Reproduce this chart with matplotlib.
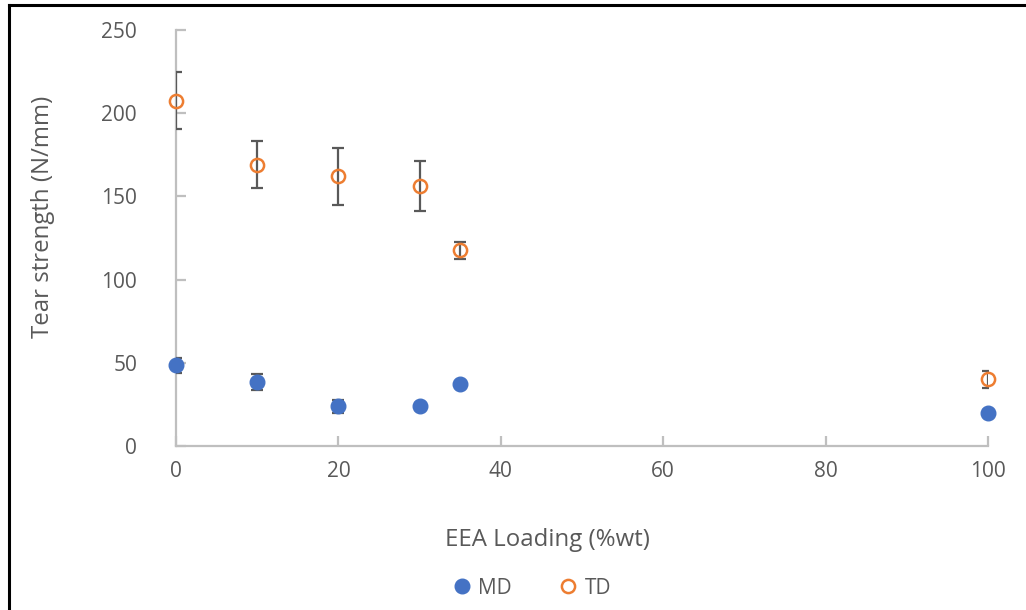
import matplotlib
matplotlib.use("Agg")
import matplotlib.pyplot as plt
from matplotlib.lines import Line2D
import numpy as np

# EEA loading (%wt)
loading = [0, 10, 20, 30, 35, 100]

# tear strength (N/mm)
md_mean = [48.6, 38.5, 23.8, 23.8, 37.0, 20.0]
md_err = [4.5, 5.0, 4.0, 2.0, 1.5, 1.5]
td_mean = [207.5, 169.0, 162.0, 156.0, 117.5, 40.0]
td_err = [17.0, 14.0, 17.0, 15.0, 5.0, 5.0]

x_ticks = [0, 20, 40, 60, 80, 100]
y_ticks = [0, 50, 100, 150, 200, 250]

TEXT = "#595959"
AXIS = "#BFBFBF"
BLUE = "#4472C4"
ORANGE = "#ED7D31"

plt.rcParams["font.family"] = ["Open Sans", "DejaVu Sans"]

fig = plt.figure(figsize=(10.26, 6.10), dpi=100)
ax = fig.add_axes([176 / 1026, 164 / 610, 812 / 1026, 416 / 610])

ax.errorbar(loading, md_mean, yerr=md_err, fmt="none", ecolor=TEXT,
            elinewidth=1.6, capsize=4, capthick=1.6, zorder=3)
ax.errorbar(loading, td_mean, yerr=td_err, fmt="none", ecolor=TEXT,
            elinewidth=1.6, capsize=4, capthick=1.6, zorder=3)

ax.plot(loading, md_mean, "o", color=BLUE, markersize=10.5, linestyle="none",
        clip_on=False, zorder=4, label="MD")
ax.plot(loading, td_mean, "o", markerfacecolor="none", markeredgecolor=ORANGE,
        markeredgewidth=1.8, markersize=9.5, linestyle="none",
        clip_on=False, zorder=4, label="TD")

ax.set_xlim(0, 100)
ax.set_ylim(0, 250)
ax.set_xticks(x_ticks)
ax.set_yticks(y_ticks)

for side in ["top", "right"]:
    ax.spines[side].set_visible(False)
for side in ["left", "bottom"]:
    ax.spines[side].set_color(AXIS)
    ax.spines[side].set_linewidth(1.6)

ax.tick_params(axis="both", direction="in", length=7, width=1.6, color=AXIS,
               labelcolor=TEXT, labelsize=15)
ax.tick_params(axis="y", pad=28)
ax.tick_params(axis="x", pad=11)

ax.set_xlabel("EEA Loading (%wt)", fontsize=17.3, color=TEXT)
ax.set_ylabel("Tear strength (N/mm)", fontsize=17.3, color=TEXT)
ax.xaxis.set_label_coords(0.457, -0.198)
ax.yaxis.set_label_coords(-0.149, 0.55)

fig.legend(loc="center", bbox_to_anchor=(0.518, 0.036), ncol=2, frameon=False,
           fontsize=15, labelcolor=TEXT, handletextpad=0.3, columnspacing=2.2,
           handlelength=1.0)

# black frame along the top and left edges
fig.add_artist(Line2D([9 / 1026, 1], [1 - 5 / 610, 1 - 5 / 610],
                      transform=fig.transFigure, color="black", linewidth=2.2))
fig.add_artist(Line2D([9 / 1026, 9 / 1026], [0, 1 - 5 / 610],
                      transform=fig.transFigure, color="black", linewidth=2.2))

fig.savefig("out.png", dpi=100, facecolor="white")
